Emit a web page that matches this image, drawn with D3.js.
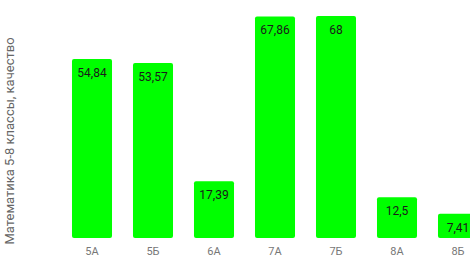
<!DOCTYPE html>
<html>
<head>
<meta charset="utf-8">
<script src="https://cdn.jsdelivr.net/npm/d3@7"></script>
<style>
  body { margin: 0; background: #fff; }
  #chart { width: 470px; height: 259px; overflow: hidden; }
</style>
</head>
<body>
<div id="chart"></div>
<script>
// Data
var classes = ["5А", "5Б", "6А", "7А", "7Б", "8А", "8Б"];
var quality = [54.84, 53.57, 17.39, 67.86, 68, 12.5, 7.41];
var labels = ["54,84", "53,57", "17,39", "67,86", "68", "12,5", "7,41"];
var axisTitle = "Математика 5-8 классы, качество";

var width = 470, height = 259;

var svg = d3.select("#chart").append("svg")
    .attr("width", width)
    .attr("height", height);

var x = d3.scaleBand()
    .domain(classes)
    .range([61.5, 488.5])
    .paddingInner(0.344)
    .paddingOuter(0.172);

var y = d3.scaleLinear()
    .domain([0, 68])
    .range([238, 16]);

var rows = classes.map(function(c, i) { return { cls: c, v: quality[i], label: labels[i] }; });

// Bars
svg.append("g").selectAll("rect")
    .data(rows)
    .enter().append("rect")
    .attr("x", d => x(d.cls))
    .attr("y", d => y(d.v))
    .attr("width", x.bandwidth())
    .attr("height", d => y(0) - y(d.v))
    .attr("rx", 2)
    .attr("fill", "#00ff00");

// Value labels
svg.append("g").selectAll("text")
    .data(rows)
    .enter().append("text")
    .attr("x", d => x(d.cls) + x.bandwidth() / 2)
    .attr("y", d => y(d.v) + 18)
    .attr("text-anchor", "middle")
    .attr("font-family", "Roboto, sans-serif")
    .attr("font-size", 12)
    .attr("fill", "#1a1a1a")
    .text(d => d.label);

// X axis (labels only)
var xAxis = svg.append("g")
    .attr("transform", "translate(0," + 243 + ")")
    .call(d3.axisBottom(x).tickSize(0).tickPadding(4));
xAxis.select(".domain").remove();
xAxis.selectAll("text")
    .attr("font-family", "Roboto, sans-serif")
    .attr("font-size", 11)
    .attr("fill", "#777");

// Y axis title
svg.append("text")
    .attr("transform", "translate(11,141) rotate(-90)")
    .attr("text-anchor", "middle")
    .attr("dominant-baseline", "middle")
    .attr("font-family", "Roboto, sans-serif")
    .attr("font-size", 13)
    .attr("fill", "#666")
    .text(axisTitle);
</script>
</body>
</html>
